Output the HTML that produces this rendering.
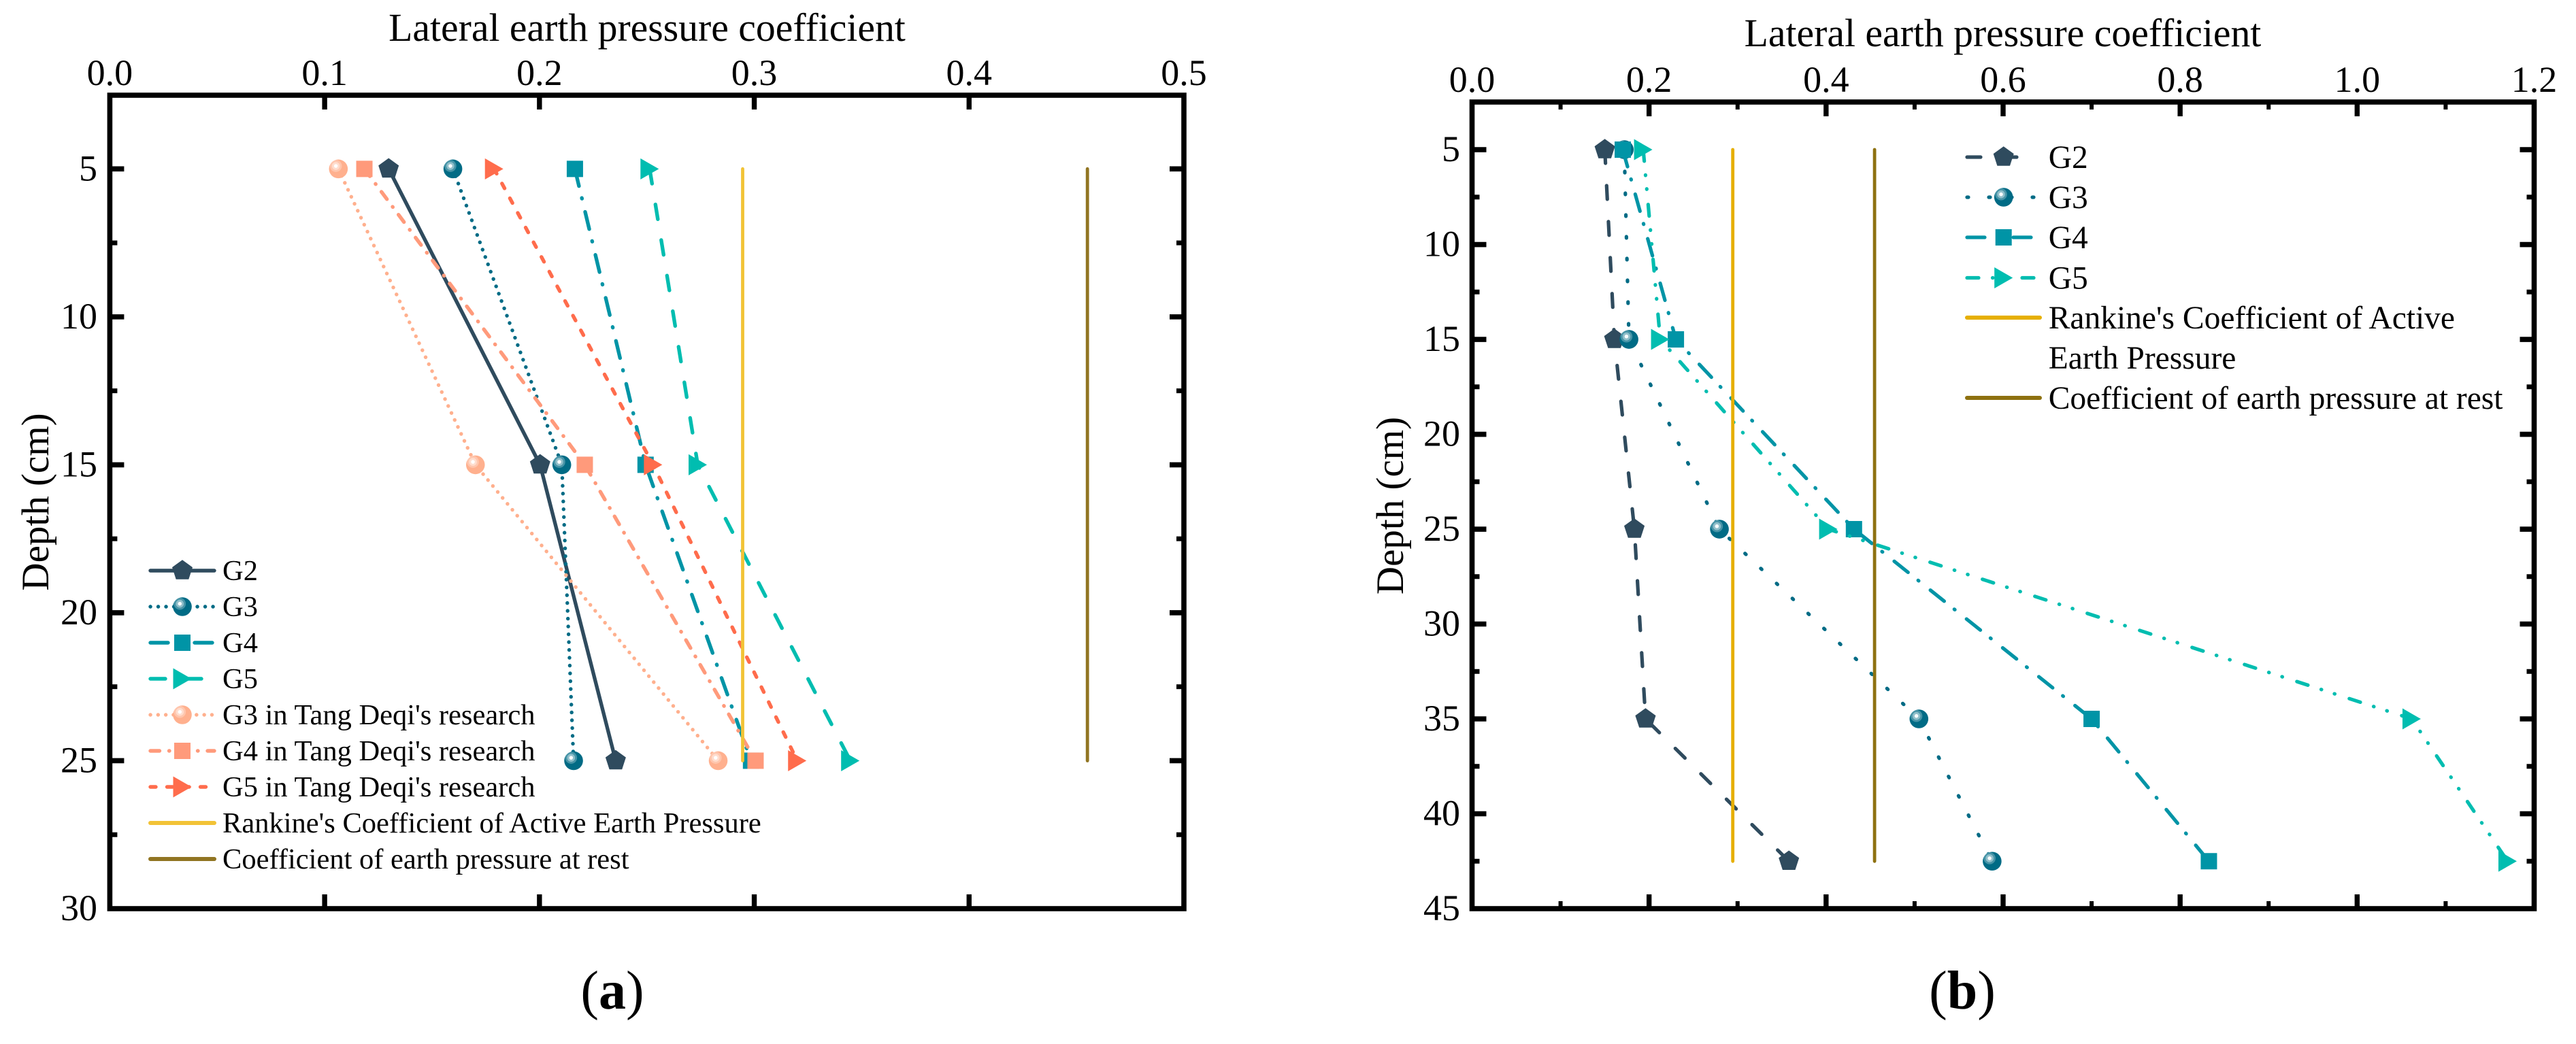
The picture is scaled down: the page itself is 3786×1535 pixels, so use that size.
<!DOCTYPE html>
<html lang="en">
<head>
<meta charset="utf-8">
<title>Lateral earth pressure coefficient versus depth</title>
<style>
html,body{margin:0;padding:0;background:#fff;}
#figure{display:block;width:3786px;height:1535px;background:#fff;font-family:"Liberation Serif",serif;}
text{font-family:"Liberation Serif",serif;fill:#000;}
</style>
</head>
<body>
<svg id="figure" xmlns="http://www.w3.org/2000/svg" width="3786" height="1535" viewBox="0 0 3786 1535">
  <g id="panel-a"></g>
  <g id="panel-b"></g>
  <text x="900" y="1483" font-size="80" text-anchor="middle">(<tspan font-weight="bold">a</tspan>)</text>
  <text x="2884" y="1483" font-size="80" text-anchor="middle">(<tspan font-weight="bold">b</tspan>)</text>
</svg>
<script>
// ---------- Panel (a) data ----------
const depthsA = [5, 15, 25];
const g2A = [0.1298, 0.2003, 0.2355];
const g3A = [0.1597, 0.2104, 0.2159];
const g4A = [0.2165, 0.2494, 0.2985];
const g5A = [0.2513, 0.2737, 0.3447];
const g3TangA = [0.1064, 0.1702, 0.2832];
const g4TangA = [0.1185, 0.2211, 0.3006];
const g5TangA = [0.1789, 0.2529, 0.3200];
const refDepthsA = [5, 25];
const rankineA = [0.2946, 0.2946];
const restA = [0.4551, 0.4551];
const xTicksA = [0, 0.1, 0.2, 0.3, 0.4, 0.5];
const xTickLabelsA = ['0.0', '0.1', '0.2', '0.3', '0.4', '0.5'];
const xMinorTicksA = [];
const yTicksA = [5, 10, 15, 20, 25, 30];
const yTickLabelsA = ['5', '10', '15', '20', '25', '30'];
const yMinorTicksA = [7.5, 12.5, 17.5, 22.5, 27.5];

// ---------- Panel (b) data ----------
const depthsB = [5, 15, 25, 35, 42.5];
const g2B = [0.150, 0.1608, 0.1834, 0.196, 0.358];
const g3B = [0.172, 0.1773, 0.2795, 0.5049, 0.5876];
const g4B = [0.1703, 0.2303, 0.4315, 0.700, 0.8325];
const g5B = [0.1934, 0.2126, 0.4025, 1.0616, 1.170];
const refDepthsB = [5, 42.5];
const rankineB = [0.2946, 0.2946];
const restB = [0.4548, 0.4548];
const xTicksB = [0, 0.2, 0.4, 0.6, 0.8, 1.0, 1.2];
const xTickLabelsB = ['0.0', '0.2', '0.4', '0.6', '0.8', '1.0', '1.2'];
const xMinorTicksB = [0.1, 0.3, 0.5, 0.7, 0.9, 1.1];
const yTicksB = [5, 10, 15, 20, 25, 30, 35, 40, 45];
const yTickLabelsB = ['5', '10', '15', '20', '25', '30', '35', '40', '45'];
const yMinorTicksB = [7.5, 12.5, 17.5, 22.5, 27.5, 32.5, 37.5, 42.5];

// ---------- Text ----------
const topTitle = 'Lateral earth pressure coefficient';
const sideTitle = 'Depth (cm)';

// ---------- Styles ----------
const NS = 'http://www.w3.org/2000/svg';
const colG2 = '#2f4b5e', colG3 = '#006b85', colG4 = '#0094a6', colG5 = '#00bdb0';
const colG3T = '#ffb08e', colG4T = '#ff9a7b', colG5T = '#ff6c4c';

function make(tag, parent, props) {
  const el = document.createElementNS(NS, tag);
  for (const k in props) el.setAttribute(k, props[k]);
  parent.appendChild(el);
  return el;
}

function markerShape(group, kind, cx, cy, color) {
  if (kind === 'pentagon') {
    const r = 15.8, pts = [];
    for (let i = 0; i < 5; i++) {
      const t = -Math.PI / 2 + i * 2 * Math.PI / 5;
      pts.push((cx + r * Math.cos(t)).toFixed(1) + ',' + (cy + r * Math.sin(t)).toFixed(1));
    }
    make('polygon', group, {points: pts.join(' '), fill: color});
  } else if (kind === 'square') {
    make('rect', group, {x: cx - 12, y: cy - 12, width: 24, height: 24, fill: color});
  } else if (kind === 'triangle') {
    make('polygon', group, {points: (cx - 13.5) + ',' + (cy - 15.5) + ' ' + (cx + 13.5) + ',' + cy + ' ' + (cx - 13.5) + ',' + (cy + 15.5), fill: color});
  } else {
    make('circle', group, {cx: cx, cy: cy, r: 13.8, fill: color});
    make('circle', group, {cx: cx - 3.7, cy: cy - 4.3, r: 8.8, fill: '#fff', opacity: 0.28});
    make('circle', group, {cx: cx - 3.7, cy: cy - 4.3, r: 5.8, fill: '#fff', opacity: 0.4});
    make('circle', group, {cx: cx - 3.7, cy: cy - 4.3, r: 2.8, fill: '#fff', opacity: 0.95});
  }
}

function drawPanel(rootId, panel, ax, xTicks, xLabels, xMinor, yTicks, yLabels, yMinor, series, refs, legend) {
  const root = document.getElementById(rootId);
  const X = v => ax.x0 + (v - ax.xMin) / (ax.xMax - ax.xMin) * (ax.x1 - ax.x0);
  const Y = v => ax.y0 + (v - ax.yMin) / (ax.yMax - ax.yMin) * (ax.y1 - ax.y0);

  // series (line then marker)
  series.forEach(s => {
    const g = make('g', root, {});
    
    
    const d = s.values.map((v, i) => (i ? 'L' : 'M') + X(v).toFixed(1) + ' ' + Y(s.depths[i]).toFixed(1)).join(' ');
    const line = make('path', g, {d: d, fill: 'none', stroke: s.color, 'stroke-width': ax.lw, 'stroke-linecap': 'round', 'stroke-linejoin': 'round'});
    if (s.dash) line.setAttribute('stroke-dasharray', s.dash);
    
    
    s.values.forEach((v, i) => {
      const m = make('g', g, {});
      
      
      markerShape(m, s.marker, X(v), Y(s.depths[i]), s.color);
    });
  });

  // reference lines
  refs.forEach(r => {
    const d = r.values.map((v, i) => (i ? 'L' : 'M') + X(v).toFixed(1) + ' ' + Y(r.depths[i]).toFixed(1)).join(' ');
    const line = make('path', root, {d: d, fill: 'none', stroke: r.color, 'stroke-width': 4.8, 'stroke-linecap': 'round'});
    
    
  });

  // frame
  const frame = make('rect', root, {x: ax.x0, y: ax.y0, width: ax.x1 - ax.x0, height: ax.y1 - ax.y0, fill: 'none', stroke: '#000', 'stroke-width': 7.6});
  
  

  // x ticks
  xTicks.forEach((v, i) => {
    const x = X(v);
    if (i > 0 && i < xTicks.length - 1) {
      [[ax.y0, ax.y0 + ax.major], [ax.y1, ax.y1 - ax.major]].forEach(p => {
        const t = make('line', root, {x1: x, x2: x, y1: p[0], y2: p[1], stroke: '#000', 'stroke-width': 7.4});
        
        
      });
    }
    const lab = make('text', root, {x: x, y: ax.xLabelY, 'font-size': 54, 'text-anchor': 'middle'});
    lab.textContent = xLabels[i];
    
    
  });
  xMinor.forEach(v => {
    const x = X(v);
    [[ax.y0, ax.y0 + ax.minor], [ax.y1, ax.y1 - ax.minor]].forEach(p => {
      const t = make('line', root, {x1: x, x2: x, y1: p[0], y2: p[1], stroke: '#000', 'stroke-width': 6});
      
      
    });
  });

  // y ticks
  yTicks.forEach((v, i) => {
    const y = Y(v);
    if (i < yTicks.length - 1) {
      [[ax.x0, ax.x0 + ax.major], [ax.x1, ax.x1 - ax.major]].forEach(p => {
        const t = make('line', root, {x1: p[0], x2: p[1], y1: y, y2: y, stroke: '#000', 'stroke-width': 7.6});
        
        
      });
    }
    const lab = make('text', root, {x: ax.yLabelX, y: y + 17, 'font-size': 54, 'text-anchor': 'end'});
    lab.textContent = yLabels[i];
    
    
  });
  yMinor.forEach(v => {
    const y = Y(v);
    [[ax.x0, ax.x0 + ax.minor], [ax.x1, ax.x1 - ax.minor]].forEach(p => {
      const t = make('line', root, {x1: p[0], x2: p[1], y1: y, y2: y, stroke: '#000', 'stroke-width': 7});
      
      
    });
  });

  // axis titles
  const xt = make('text', root, {x: ax.titleX, y: ax.titleY, 'font-size': 57.7, 'text-anchor': 'middle'});
  xt.textContent = topTitle;
  
  
  const yt = make('text', root, {transform: 'translate(' + ax.sideX + ' ' + ax.sideY + ') rotate(-90)', 'font-size': 57, 'text-anchor': 'middle'});
  yt.textContent = sideTitle;
  
  

  // legend
  legend.forEach(e => {
    const g = make('g', root, {});
    
    
    if (e.color) {
      const l = make('line', g, {x1: ax.legX0, x2: e.marker || e.dash ? ax.legX1Dash : ax.legX1, y1: e.y, y2: e.y, stroke: e.color, 'stroke-width': e.marker ? ax.lw : 6, 'stroke-linecap': 'round'});
      if (e.dash) l.setAttribute('stroke-dasharray', e.dash);
      
      
    }
    if (e.marker) {
      const m = make('g', g, {});
      
      
      markerShape(m, e.marker, ax.legMid, e.y, e.color);
    }
    const t = make('text', g, {x: ax.legText, y: e.y + ax.legBase, 'font-size': ax.legFont});
    t.textContent = e.label;
    
    
  });
}

// ---------- Panel (a) ----------
const dashA = {g3: '0.1 11.4', g4: '26 18 1 20', g5: '22 31', g3t: '0.1 11.2', g4t: '13.5 14 0.5 14', g5t: '8 16.5'};
drawPanel('panel-a', 'panel-a',
  {x0: 161.4, x1: 1740, y0: 140, y1: 1336, xMin: 0, xMax: 0.5, yMin: 2.51, yMax: 30, lw: 5.4, major: 21, minor: 11,
   xLabelY: 125, yLabelX: 143, titleX: 951, titleY: 60, sideX: 71, sideY: 738,
   legX0: 221, legX1: 315, legX1Dash: 315, legMid: 268, legText: 327, legBase: 14, legFont: 42.5},
  xTicksA, xTickLabelsA, xMinorTicksA, yTicksA, yTickLabelsA, yMinorTicksA,
  [
    {id: 'g2', values: g2A, depths: depthsA, color: colG2, marker: 'pentagon', dash: ''},
    {id: 'g3', values: g3A, depths: depthsA, color: colG3, marker: 'sphere', dash: dashA.g3},
    {id: 'g4', values: g4A, depths: depthsA, color: colG4, marker: 'square', dash: dashA.g4},
    {id: 'g5', values: g5A, depths: depthsA, color: colG5, marker: 'triangle', dash: dashA.g5},
    {id: 'g3-tang', values: g3TangA, depths: depthsA, color: colG3T, marker: 'sphere', dash: dashA.g3t},
    {id: 'g4-tang', values: g4TangA, depths: depthsA, color: colG4T, marker: 'square', dash: dashA.g4t},
    {id: 'g5-tang', values: g5TangA, depths: depthsA, color: colG5T, marker: 'triangle', dash: dashA.g5t}
  ],
  [
    {id: 'rankine', values: rankineA, depths: refDepthsA, color: '#f2c336'},
    {id: 'at-rest', values: restA, depths: refDepthsA, color: '#917522'}
  ],
  [
    {y: 839, label: 'G2', color: colG2, marker: 'pentagon', dash: ''},
    {y: 892, label: 'G3', color: colG3, marker: 'sphere', dash: dashA.g3},
    {y: 945, label: 'G4', color: colG4, marker: 'square', dash: dashA.g4},
    {y: 998, label: 'G5', color: colG5, marker: 'triangle', dash: dashA.g5},
    {y: 1051, label: "G3 in Tang Deqi's research", color: colG3T, marker: 'sphere', dash: dashA.g3t},
    {y: 1104, label: "G4 in Tang Deqi's research", color: colG4T, marker: 'square', dash: dashA.g4t},
    {y: 1157, label: "G5 in Tang Deqi's research", color: colG5T, marker: 'triangle', dash: dashA.g5t},
    {y: 1210, label: "Rankine's Coefficient of Active Earth Pressure", color: '#f2c336'},
    {y: 1263, label: 'Coefficient of earth pressure at rest', color: '#917522'}
  ]);

// ---------- Panel (b) ----------
const dashB = {g2: '20 33', g3: '2 30', g4: '26 19 1 22', g5: '17 20.5 0.5 20 0.5 22.5'};
drawPanel('panel-b', 'panel-b',
  {x0: 2163.5, x1: 3724.5, y0: 150, y1: 1336, xMin: 0, xMax: 1.2, yMin: 2.49, yMax: 45, lw: 5.2, major: 21, minor: 11,
   xLabelY: 135, yLabelX: 2146, titleX: 2943.5, titleY: 68, sideX: 2062, sideY: 743.5,
   legX0: 2891, legX1: 2998, legX1Dash: 2993, legMid: 2944.7, legText: 3010.7, legBase: 16, legFont: 47.5},
  xTicksB, xTickLabelsB, xMinorTicksB, yTicksB, yTickLabelsB, yMinorTicksB,
  [
    {id: 'g2', values: g2B, depths: depthsB, color: colG2, marker: 'pentagon', dash: dashB.g2},
    {id: 'g3', values: g3B, depths: depthsB, color: colG3, marker: 'sphere', dash: dashB.g3},
    {id: 'g4', values: g4B, depths: depthsB, color: colG4, marker: 'square', dash: dashB.g4},
    {id: 'g5', values: g5B, depths: depthsB, color: colG5, marker: 'triangle', dash: dashB.g5}
  ],
  [
    {id: 'rankine', values: rankineB, depths: refDepthsB, color: '#e6af00'},
    {id: 'at-rest', values: restB, depths: refDepthsB, color: '#8e7110'}
  ],
  [
    {y: 231, label: 'G2', color: colG2, marker: 'pentagon', dash: dashB.g2},
    {y: 290, label: 'G3', color: colG3, marker: 'sphere', dash: dashB.g3},
    {y: 349, label: 'G4', color: colG4, marker: 'square', dash: dashB.g4},
    {y: 408.5, label: 'G5', color: colG5, marker: 'triangle', dash: dashB.g5},
    {y: 467, label: "Rankine's Coefficient of Active", color: '#e6af00'},
    {y: 526, label: 'Earth Pressure'},
    {y: 585, label: 'Coefficient of earth pressure at rest', color: '#8e7110'}
  ]);
</script>
</body>
</html>
